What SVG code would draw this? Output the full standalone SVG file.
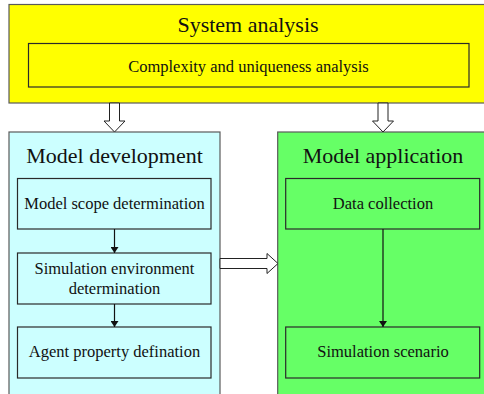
<svg xmlns="http://www.w3.org/2000/svg" width="484" height="394" viewBox="0 0 484 394">
  <defs>
    <marker id="tip" viewBox="0 0 6 8" refX="6" refY="4" markerWidth="6" markerHeight="8" markerUnits="userSpaceOnUse" orient="auto">
      <path d="M0,0 L6,4 L0,8 Z" fill="#111"/>
    </marker>
    <style>
      .outer { stroke: #5a5a5a; stroke-width: 1.2; }
      .inner { stroke: #2a2a2a; stroke-width: 1.2; }
      .hollow { fill: #ffffff; stroke: #222; stroke-width: 1; }
      text { font-family: 'Liberation Serif', 'Times New Roman', serif; fill: #111; text-anchor: middle; }
      .title { font-size: 22px; }
      .label { font-size: 16.5px; }
      .link { stroke: #111; stroke-width: 1.2; fill: none; marker-end: url(#tip); }
    </style>
  </defs>

  <!-- top stage -->
  <g id="system-analysis">
    <rect class="outer" x="9" y="4.5" width="480" height="98.5" fill="#ffff00"/>
    <text class="title" x="248" y="32">System analysis</text>
  </g>
  <g id="complexity-analysis">
    <rect class="inner" x="28.5" y="43.5" width="440.5" height="43.5" fill="#ffff00"/>
    <text class="label" x="248.5" y="71.5">Complexity and uniqueness analysis</text>
  </g>

  <!-- left column -->
  <g id="model-development">
    <rect class="outer" x="9" y="132" width="211" height="270" fill="#ccffff"/>
    <text class="title" x="114.5" y="163">Model development</text>
  </g>
  <g id="model-scope">
    <rect class="inner" x="17.5" y="178.5" width="193.5" height="50.5" fill="#ccffff"/>
    <text class="label" x="114.5" y="209">Model scope determination</text>
  </g>
  <g id="simulation-environment">
    <rect class="inner" x="17.5" y="253" width="193.5" height="51" fill="#ccffff"/>
    <text class="label" x="114.5" y="274">Simulation environment</text>
    <text class="label" x="114.5" y="294">determination</text>
  </g>
  <g id="agent-property">
    <rect class="inner" x="17.5" y="327" width="193.5" height="51" fill="#ccffff"/>
    <text class="label" x="114.5" y="357">Agent property defination</text>
  </g>

  <!-- right column -->
  <g id="model-application">
    <rect class="outer" x="277.7" y="132" width="215" height="270" fill="#66ff66"/>
    <text class="title" x="383" y="163">Model application</text>
  </g>
  <g id="data-collection">
    <rect class="inner" x="285.7" y="178.5" width="194" height="50.5" fill="#66ff66"/>
    <text class="label" x="383" y="209">Data collection</text>
  </g>
  <g id="simulation-scenario">
    <rect class="inner" x="285.7" y="327" width="194" height="51" fill="#66ff66"/>
    <text class="label" x="383" y="357">Simulation scenario</text>
  </g>

  <!-- connectors -->
  <g id="connectors">
    <path class="hollow" d="M109.5,103 H119.5 V121 H125 L114.5,132 L104,121 H109.5 Z"/>
    <path class="hollow" d="M378,103 H388 V121 H393.5 L383,132 L372.5,121 H378 Z"/>
    <path class="hollow" d="M220,258.5 H267 V253.5 L278,263.5 L267,273.5 V268.5 H220 Z"/>
    <line class="link" x1="114.5" y1="229" x2="114.5" y2="253"/>
    <line class="link" x1="114.5" y1="304" x2="114.5" y2="327"/>
    <line class="link" x1="383" y1="229" x2="383" y2="327"/>
  </g>
</svg>
